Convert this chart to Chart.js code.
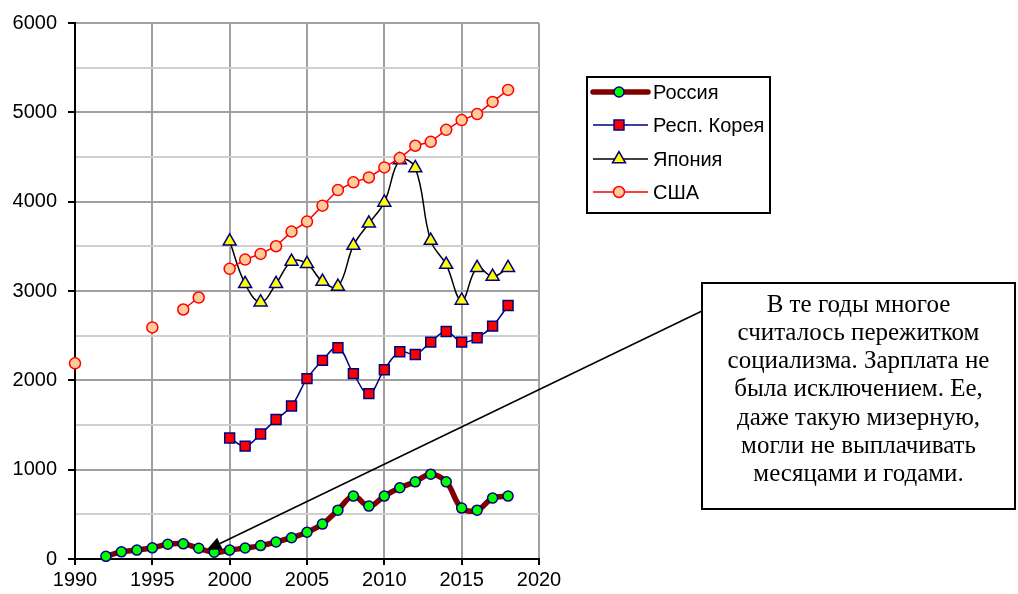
<!DOCTYPE html>
<html>
<head>
<meta charset="utf-8">
<script src="https://cdn.jsdelivr.net/npm/chart.js@4/dist/chart.umd.min.js"></script>
<style>
  html, body { margin: 0; padding: 0; background: #fff; }
  #wrap { width: 1018px; height: 594px; }
</style>
</head>
<body>
<div id="wrap"><canvas id="chart" width="1018" height="594"></canvas></div>
<script>
// Данные, средняя зарплата, долл. США
const russiaYears = [1992, 1993, 1994, 1995, 1996, 1997, 1998, 1999, 2000, 2001, 2002, 2003, 2004, 2005,
                     2006, 2007, 2008, 2009, 2010, 2011, 2012, 2013, 2014, 2015, 2016, 2017, 2018];
const russia = [30, 80, 100, 125, 165, 170, 120, 75, 100, 123, 150, 190, 238, 300,
                391, 547, 704, 592, 704, 797, 864, 950, 864, 570, 547, 682, 704];

const asiaYears = [2000, 2001, 2002, 2003, 2004, 2005, 2006, 2007, 2008, 2009,
                   2010, 2011, 2012, 2013, 2014, 2015, 2016, 2017, 2018];
const korea = [1355, 1263, 1400, 1561, 1713, 2019, 2223, 2365, 2075, 1851,
               2119, 2320, 2290, 2428, 2547, 2428, 2477, 2607, 2838];
const japan = [3556, 3080, 2875, 3080, 3330, 3304, 3106, 3050, 3508, 3757,
               3992, 4466, 4377, 3564, 3296, 2894, 3259, 3162, 3259];

const usaYears = [1990, 1991, 1992, 1993, 1994, 1995, 1996, 1997, 1998, 1999,
                  2000, 2001, 2002, 2003, 2004, 2005, 2006, 2007, 2008, 2009,
                  2010, 2011, 2012, 2013, 2014, 2015, 2016, 2017, 2018];
const usa = [2190, null, null, null, null, 2592, null, 2793, 2927, null,
             3248, 3352, 3415, 3501, 3665, 3777, 3955, 4130, 4216, 4271,
             4383, 4488, 4626, 4670, 4804, 4913, 4980, 5117, 5251];

const seriesNames = ['Россия', 'Респ. Корея', 'Япония', 'США'];

const noteLines = [
    'В те годы многое',
    'считалось пережитком',
    'социализма. Зарплата не',
    'была исключением. Ее,',
    'даже такую мизерную,',
    'могли не выплачивать',
    'месяцами и годами.'
];

const pairs = (xs, ys) => xs.map((x, i) => ({ x: x, y: ys[i] }));

const SANS = '"Liberation Sans", Arial, sans-serif';
const SERIF = '"Liberation Serif", "Times New Roman", serif';

// Легенда в рамке справа от графика
const boxLegend = {
    id: 'boxLegend',
    afterDraw(chart) {
        const ctx = chart.ctx;
        const rows = [92, 125, 159, 192];
        ctx.save();
        ctx.fillStyle = '#fff';
        ctx.fillRect(587, 77, 183, 136);
        ctx.lineWidth = 2;
        ctx.strokeStyle = '#000';
        ctx.strokeRect(587, 77, 183, 136);
        chart.data.datasets.forEach((ds, i) => {
            const y = rows[i];
            ctx.beginPath();
            ctx.lineCap = ds.borderWidth > 3 ? 'round' : 'butt';
            ctx.lineWidth = ds.borderWidth;
            ctx.strokeStyle = ds.borderColor;
            ctx.moveTo(593, y);
            ctx.lineTo(648, y);
            ctx.stroke();
            ctx.fillStyle = ds.pointBackgroundColor;
            ctx.strokeStyle = ds.pointBorderColor;
            ctx.lineWidth = ds.pointBorderWidth;
            Chart.helpers.drawPoint(ctx, {
                pointStyle: ds.pointStyle,
                radius: ds.pointRadius,
                rotation: 0,
                borderWidth: ds.pointBorderWidth
            }, 619, y);
            ctx.fillStyle = '#000';
            ctx.font = '20px ' + SANS;
            ctx.textAlign = 'left';
            ctx.textBaseline = 'middle';
            ctx.fillText(ds.label, 653, y + 1);
        });
        ctx.restore();
    }
};

// Выноска с текстом и стрелкой
const callout = {
    id: 'callout',
    afterDraw(chart, args, opts) {
        const ctx = chart.ctx;
        const xs = chart.scales.x, ys = chart.scales.y;
        const tipX = xs.getPixelForValue(opts.tip[0]);
        const tipY = ys.getPixelForValue(opts.tip[1]);
        const b = opts.box;
        ctx.save();
        // стрелка
        const sx = b.left, sy = opts.startY;
        const ang = Math.atan2(sy - tipY, sx - tipX);
        const len = 15, half = 6.5;
        const bx = tipX + Math.cos(ang) * len, by = tipY + Math.sin(ang) * len;
        ctx.strokeStyle = '#000';
        ctx.lineWidth = 1.5;
        ctx.beginPath();
        ctx.moveTo(sx, sy);
        ctx.lineTo(bx, by);
        ctx.stroke();
        ctx.fillStyle = '#000';
        ctx.beginPath();
        ctx.moveTo(tipX, tipY);
        ctx.lineTo(bx - Math.sin(ang) * half, by + Math.cos(ang) * half);
        ctx.lineTo(bx + Math.sin(ang) * half, by - Math.cos(ang) * half);
        ctx.closePath();
        ctx.fill();
        // рамка
        ctx.fillStyle = '#fff';
        ctx.fillRect(b.left, b.top, b.right - b.left, b.bottom - b.top);
        ctx.lineWidth = 2;
        ctx.strokeRect(b.left, b.top, b.right - b.left, b.bottom - b.top);
        // текст
        ctx.fillStyle = '#000';
        ctx.font = '25px ' + SERIF;
        ctx.textAlign = 'center';
        ctx.textBaseline = 'middle';
        const cx = (b.left + b.right) / 2;
        noteLines.forEach((line, i) => {
            ctx.fillText(line, cx, opts.firstLineY + i * opts.lineGap);
        });
        ctx.restore();
    }
};

new Chart(document.getElementById('chart'), {
    type: 'line',
    data: {
        datasets: [
            {
                label: seriesNames[0],
                data: pairs(russiaYears, russia),
                borderColor: '#800000',
                borderWidth: 5.5,
                tension: 0.4,
                pointStyle: 'circle',
                pointRadius: 5,
                pointBackgroundColor: '#00ff00',
                pointBorderColor: '#000080',
                pointBorderWidth: 1.5,
                order: 4,
                clip: false
            },
            {
                label: seriesNames[1],
                data: pairs(asiaYears, korea),
                borderColor: '#000080',
                borderWidth: 1.5,
                tension: 0.4,
                pointStyle: 'rect',
                pointRadius: 7,
                pointBackgroundColor: '#ff0000',
                pointBorderColor: '#000080',
                pointBorderWidth: 1.5,
                order: 3,
                clip: false
            },
            {
                label: seriesNames[2],
                data: pairs(asiaYears, japan),
                borderColor: '#000000',
                borderWidth: 1.5,
                tension: 0.4,
                pointStyle: 'triangle',
                pointRadius: 7.5,
                pointBackgroundColor: '#ffff00',
                pointBorderColor: '#000080',
                pointBorderWidth: 1.5,
                order: 2,
                clip: false
            },
            {
                label: seriesNames[3],
                data: pairs(usaYears, usa),
                borderColor: '#ff0000',
                borderWidth: 1.5,
                tension: 0,
                spanGaps: false,
                pointStyle: 'circle',
                pointRadius: 5.5,
                pointBackgroundColor: '#ffcc99',
                pointBorderColor: '#ff0000',
                pointBorderWidth: 1.5,
                order: 1,
                clip: false
            }
        ]
    },
    options: {
        responsive: false,
        animation: false,
        devicePixelRatio: 1,
        layout: { padding: { left: 0, top: 22, right: 479, bottom: 0 } },
        plugins: {
            legend: { display: false },
            tooltip: { enabled: false },
            callout: {
                tip: [1998.5, 100],
                startY: 311,
                box: { left: 702, top: 283, right: 1015, bottom: 509 },
                firstLineY: 305,
                lineGap: 28.3
            }
        },
        scales: {
            x: {
                type: 'linear',
                min: 1990,
                max: 2020,
                afterFit: s => { s.height = 35; },
                border: { color: '#000', width: 2 },
                grid: { color: '#a0a0a0', lineWidth: 2, tickColor: '#000', tickLength: 6 },
                ticks: {
                    stepSize: 5,
                    padding: 3,
                    color: '#000',
                    font: { family: SANS, size: 20 },
                    maxRotation: 0,
                    callback: v => String(v)
                }
            },
            y: {
                min: 0,
                max: 6000,
                afterFit: s => { s.width = 75; },
                border: { color: '#000', width: 2 },
                grid: {
                    color: c => c.tick && c.tick.value % 1000 === 0 ? '#a0a0a0' : '#cfcfcf',
                    lineWidth: 2,
                    tickColor: c => c.tick && c.tick.value % 1000 === 0 ? '#000' : 'rgba(0,0,0,0)',
                    tickLength: 7
                },
                ticks: {
                    stepSize: 500,
                    padding: 11,
                    color: '#000',
                    font: { family: SANS, size: 20 },
                    callback: v => v % 1000 === 0 ? String(v) : ''
                }
            }
        }
    },
    plugins: [boxLegend, callout]
});
</script>
</body>
</html>
